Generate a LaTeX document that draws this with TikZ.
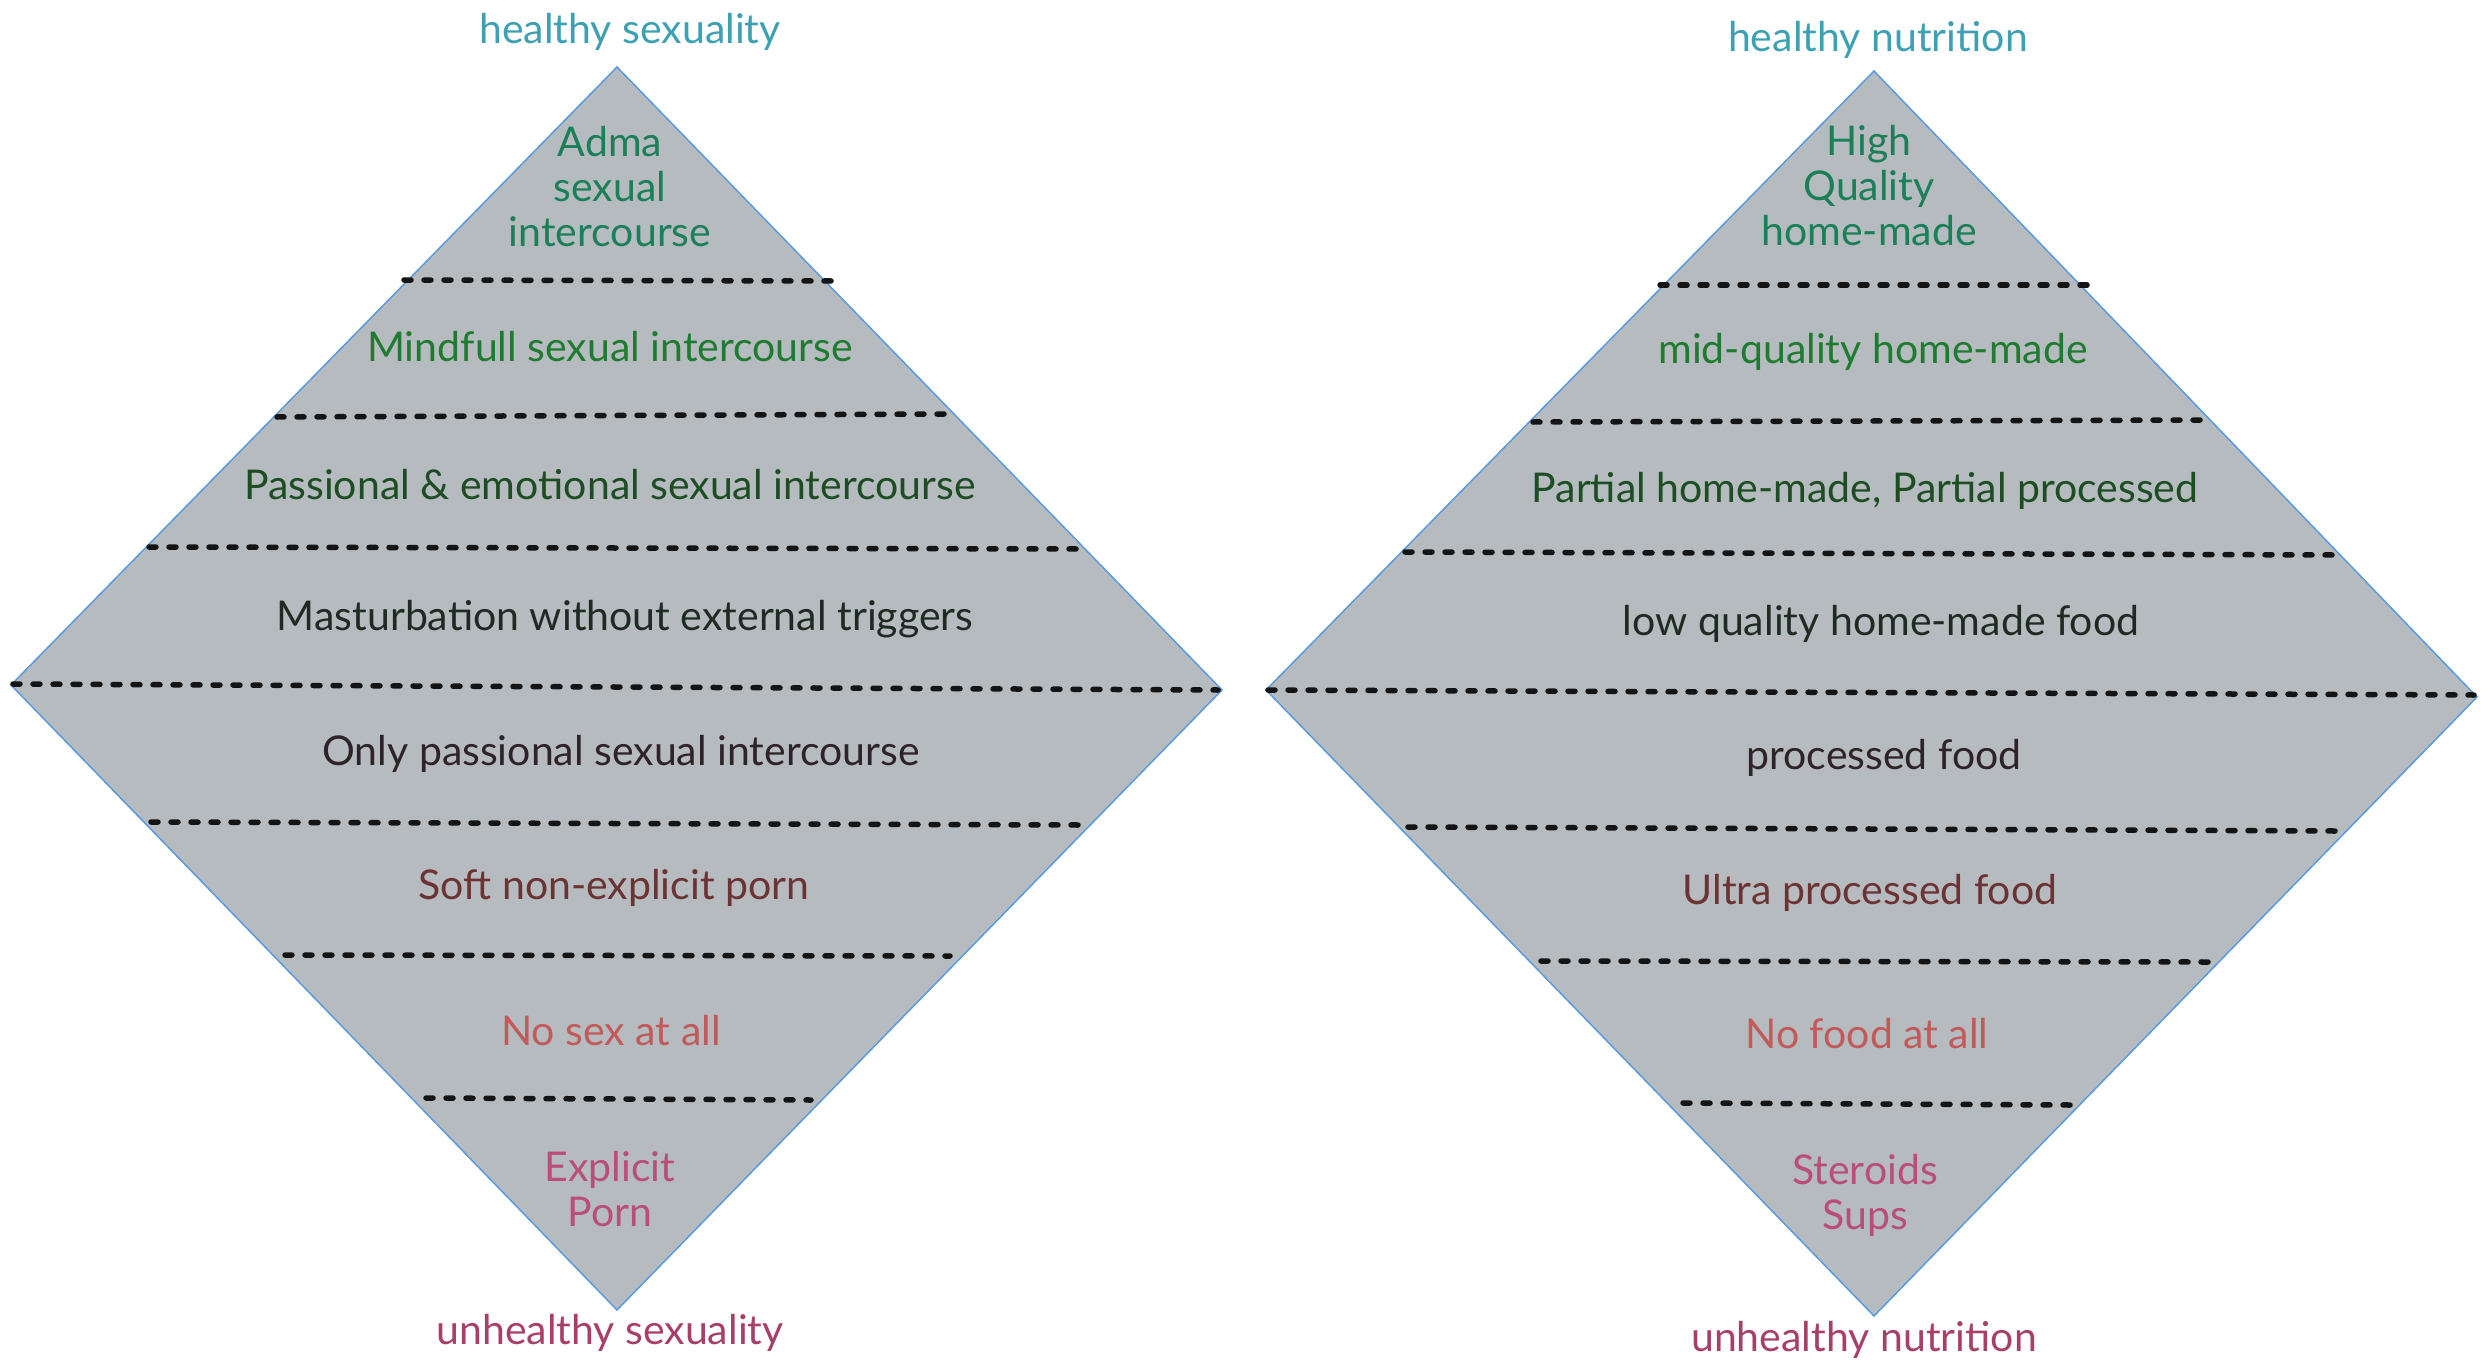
\documentclass[tikz,border=0pt]{standalone}
\usepackage{fontspec}
\setmainfont{Lato}
\definecolor{pyrgray}{HTML}{B6BBBF}
\definecolor{edgeblue}{HTML}{5A9BE0}
\definecolor{headteal}{HTML}{3DA0B3}
\definecolor{tealgreen}{HTML}{1B7F57}
\definecolor{midgreen}{HTML}{1E7B2F}
\definecolor{darkgreen}{HTML}{1D4D23}
\definecolor{nearblack}{HTML}{1E2B22}
\definecolor{darkplum}{HTML}{2E2326}
\definecolor{brownred}{HTML}{6B3333}
\definecolor{softred}{HTML}{C25A5A}
\definecolor{rosepink}{HTML}{B94E77}
\definecolor{deeprose}{HTML}{A83F68}
\begin{document}
\begin{tikzpicture}[x=1pt,y=-1pt,
  pyr/.style={fill=pyrgray, draw=edgeblue, line width=1.5pt, line join=miter},
  layer/.style={draw=black!92, line width=5.5pt, line cap=round, dash pattern=on 7pt off 13pt},
  tier/.style={font=\fontsize{41}{45}\selectfont, align=center, inner sep=0pt},
  caption/.style={tier, text=headteal}]
\useasboundingbox (0,0) rectangle (2483,1372);

% ---------- sexuality diamond ----------
\coordinate (LT) at (617,67);
\coordinate (LR) at (1222,690);
\coordinate (LB) at (617,1310);
\coordinate (LL) at (11,685);
\draw[pyr] (LT) -- (LR) -- (LB) -- (LL) -- cycle;

\draw[layer] (404,280) -- (832,281);
\draw[layer] (277,417) -- (951,414);
\draw[layer] (149,547) -- (1083,549);
\draw[layer] (13,684) -- (1218,690);
\draw[layer] (151,822) -- (1079,825);
\draw[layer] (285,955) -- (950,956);
\draw[layer] (426,1098) -- (811,1100);

\node[caption] (hs) at (630,32) {healthy sexuality};
\node[tier, text=tealgreen] (s1) at (610,187) {Adma\\sexual\\intercourse};
\node[tier, text=midgreen] (s2) at (610,347) {Mindfull sexual intercourse};
\node[tier, text=darkgreen] (s3) at (610,485) {Passional \& emotional sexual intercourse};
\node[tier, text=nearblack] (s4) at (625,619) {Masturbation without external triggers};
\node[tier, text=darkplum] (s5) at (621,754) {Only passional sexual intercourse};
\node[tier, text=brownred] (s6) at (614,888) {Soft non-explicit porn};
\node[tier, text=softred] (s7) at (611,1031) {No sex at all};
\node[tier, text=rosepink] (s8) at (610,1189) {Explicit\\Porn};
\node[tier, text=deeprose] (us) at (610,1333) {unhealthy sexuality};

% ---------- nutrition diamond ----------
\coordinate (RT) at (1874,71);
\coordinate (RR) at (2477,697);
\coordinate (RB) at (1874,1316);
\coordinate (RL) at (1266,690);
\draw[pyr] (RT) -- (RR) -- (RB) -- (RL) -- cycle;

\draw[layer] (1660,285) -- (2087,285);
\draw[layer] (1533,422) -- (2208,420);
\draw[layer] (1405,552) -- (2343,555);
\draw[layer] (1268,690) -- (2474,695);
\draw[layer] (1408,827) -- (2335,831);
\draw[layer] (1541,961) -- (2208,962);
\draw[layer] (1683,1103) -- (2070,1105);

\node[caption] (hn) at (1878,40) {healthy nutrition};
\node[tier, text=tealgreen] (n1) at (1869,186) {High\\Quality\\home-made};
\node[tier, text=midgreen] (n2) at (1873,352) {mid-quality home-made};
\node[tier, text=darkgreen] (n3) at (1865,491) {Partial home-made, Partial processed};
\node[tier, text=nearblack] (n4) at (1881,624) {low quality home-made food};
\node[tier, text=darkplum] (n5) at (1884,758) {processed food};
\node[tier, text=brownred] (n6) at (1870,893) {Ultra processed food};
\node[tier, text=softred] (n7) at (1867,1034) {No food at all};
\node[tier, text=rosepink] (n8) at (1865,1195) {Steroids\\Sups};
\node[tier, text=deeprose] (un) at (1864,1340) {unhealthy nutrition};
\end{tikzpicture}
\end{document}
